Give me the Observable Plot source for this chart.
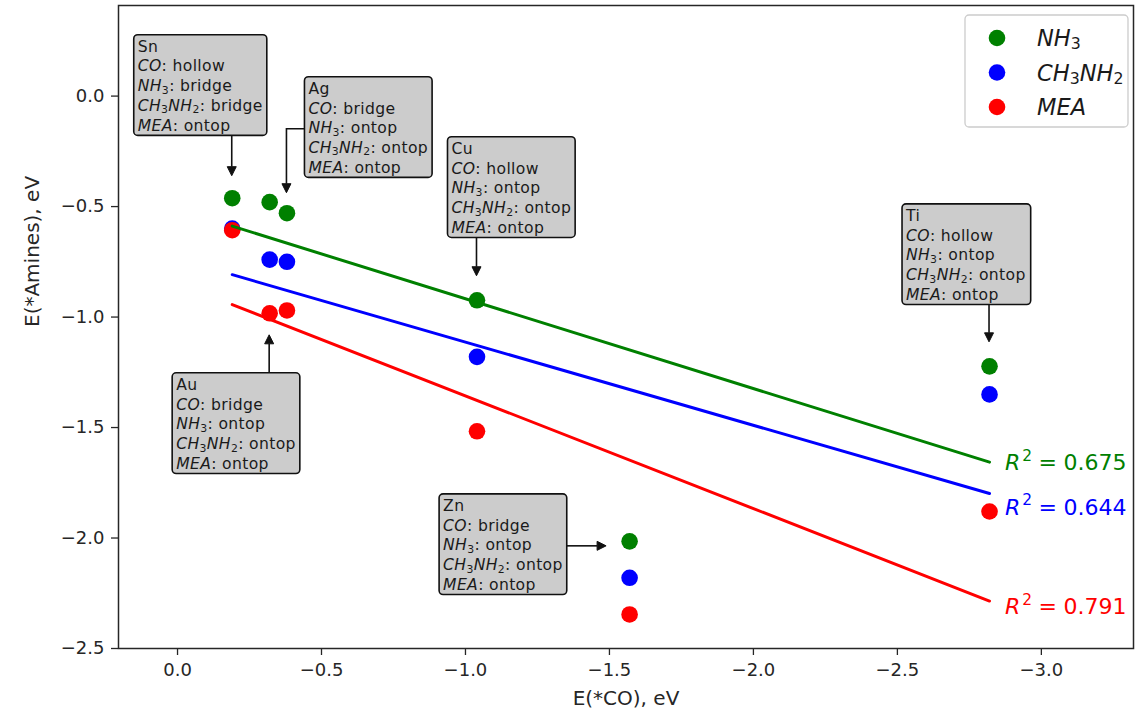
<!DOCTYPE html>
<html><head><meta charset="utf-8">
<script src="https://cdn.jsdelivr.net/npm/d3@7"></script>
<script src="https://cdn.jsdelivr.net/npm/@observablehq/plot@0.6"></script>
<style>
body{margin:0;background:#fff}
svg{font-family:"DejaVu Sans",sans-serif}
</style>
</head><body><div id="chart"></div>
<script>
// ---- data ----
const metals = ["Sn","Au","Ag","Cu","Zn","Ti"];
const eCO = [-0.19,-0.32,-0.38,-1.04,-1.57,-2.82];
const eNH3 = [-0.462,-0.48,-0.53,-0.924,-2.015,-1.223];
const eCH3NH2 = [-0.60,-0.74,-0.75,-1.18,-2.18,-1.35];
const eMEA = [-0.607,-0.983,-0.97,-1.517,-2.346,-1.88];
const seriesNames = ["NH3","CH3NH2","MEA"];
const seriesColors = ["#008000","#0000ff","#ff0000"];
const r2Values = ["0.675","0.644","0.791"];
const r2LabelY = [-1.66,-1.86,-2.31];
const siteCO = ["hollow","bridge","bridge","hollow","bridge","hollow"];
const siteNH3 = ["bridge","ontop","ontop","ontop","ontop","ontop"];
const siteCH3NH2 = ["bridge","ontop","ontop","ontop","ontop","ontop"];
const siteMEA = ["ontop","ontop","ontop","ontop","ontop","ontop"];
const xTicks = [0,-0.5,-1,-1.5,-2,-2.5,-3];
const yTicks = [0,-0.5,-1,-1.5,-2,-2.5];
const xLabel = "E(*CO), eV";
const yLabel = "E(*Amines), eV";

// annotation layout (pixel offsets from the pointed data point)
const annoLayout = {
  Sn: {target:"NH3", dx:-98, dy:-163, arrow:"down", gap:22},
  Ag: {target:"NH3", dx:18, dy:-136, arrow:"elbow", gap:20},
  Cu: {target:"NH3", dx:-29, dy:-163, arrow:"down", gap:24},
  Ti: {target:"NH3", dx:-87, dy:-162, arrow:"down", gap:24},
  Au: {target:"MEA", dx:-97, dy:60, arrow:"up", gap:22},
  Zn: {target:"NH3", dx:-190, dy:-47, arrow:"right", gap:23}
};

const seriesValues = [eNH3, eCH3NH2, eMEA];
const rows = [];
seriesNames.forEach((s, si) => metals.forEach((m, i) => rows.push({metal:m, eCO:eCO[i], series:s, value:seriesValues[si][i]})));

const fmt = d3.format(".1f");
const plot = Plot.plot({
  width:1135, height:719,
  marginLeft:118, marginRight:2, marginTop:5, marginBottom:71,
  style:{fontFamily:"DejaVu Sans, sans-serif", fontSize:"18px", background:"#fff", color:"#262626"},
  x:{domain:[0.205,-3.32]},
  y:{domain:[-2.5,0.41]},
  color:{domain:seriesNames, range:seriesColors},
  marks:[
    Plot.axisX({ticks:xTicks, tickFormat:fmt, tickSize:7, tickPadding:8, fontSize:18, label:null, strokeWidth:1.3}),
    Plot.axisY({ticks:yTicks, tickFormat:fmt, tickSize:7, tickPadding:7, fontSize:18, label:null, strokeWidth:1.3}),
    Plot.dot(rows, {x:"eCO", y:"value", fill:"series", r:8.3}),
    Plot.linearRegressionY(rows, {x:"eCO", y:"value", stroke:"series", strokeWidth:3, ci:0}),
    Plot.frame({stroke:"#262626", strokeWidth:1.5}),
    Plot.text([xLabel], {frameAnchor:"bottom", dy:56, fontSize:20, fill:"#262626"}),
    Plot.text([yLabel], {frameAnchor:"left", dx:-86, rotate:-90, fontSize:20, fill:"#262626"})
  ]
});
document.getElementById("chart").appendChild(plot);

const sx = plot.scale("x"), sy = plot.scale("y");
const svg = d3.select(plot);

function speciesParts(name) {
  const out = [];
  for (const m of name.matchAll(/([A-Za-z]+)|(\d+)/g)) out.push(m[1] ? [m[1], "i"] : [m[2], "sub"]);
  return out;
}
// one <text> element; lines = array of parts arrays
function addRichLines(g, x, y, lines, size, lineH, color) {
  const t = g.append("text").attr("x", x).attr("y", y).attr("font-size", size).attr("fill", color)
    .attr("text-anchor", "start");
  let shift = 0;
  lines.forEach((parts, k) => {
    parts.forEach(([str, kind, gapx], j) => {
      const ts = t.append("tspan").text(str);
      let target = 0;
      if (kind === "sub") { ts.attr("font-size", size * 0.7); target = size * 0.15; }
      else if (kind === "sup") { ts.attr("font-size", size * 0.7); target = -size * 0.42; }
      if (kind === "i") ts.attr("font-style", "italic");
      if (gapx) ts.attr("dx", gapx);
      let dy = 0;
      if (j === 0 && k > 0) { ts.attr("x", x); dy = lineH - shift; shift = 0; }
      if (target !== shift) { dy += target - shift; shift = target; }
      if (dy) ts.attr("dy", dy);
    });
  });
  return t;
}

// ---- annotations ----
const ag = svg.append("g");
const annoSize = 15.6, lineH = 19.8;
Object.entries(annoLayout).forEach(([metal, L]) => {
  const i = metals.indexOf(metal);
  const si = seriesNames.indexOf(L.target);
  const px = sx.apply(eCO[i]), py = sy.apply(seriesValues[si][i]);
  const bx = px + L.dx, by = py + L.dy;
  const g = ag.append("g");
  const rect = g.append("rect");
  const lines = [
    [[metal, ""]],
    [["CO", "i"], [": " + siteCO[i], ""]],
    [...speciesParts("NH3"), [": " + siteNH3[i], ""]],
    [...speciesParts("CH3NH2"), [": " + siteCH3NH2[i], ""]],
    [...speciesParts("MEA"), [": " + siteMEA[i], ""]]
  ];
  const t = addRichLines(g, bx + 4, by + 17, lines, annoSize, lineH, "#1a1a1a").attr("letter-spacing", 0.35);
  const bb = t.node().getBBox();
  const w = bb.width + 8, h = 17 + 4 * lineH + 4.5;
  rect.attr("x", bx).attr("y", by).attr("width", w).attr("height", h)
      .attr("rx", 4).attr("fill", "#cccccc").attr("stroke", "#111").attr("stroke-width", 1.6);
  // arrow
  let pts, dir;
  if (L.arrow === "down") { pts = [[px, by + h], [px, py - L.gap]]; dir = [0, 1]; }
  else if (L.arrow === "up") { pts = [[px, by], [px, py + L.gap]]; dir = [0, -1]; }
  else if (L.arrow === "elbow") { pts = [[bx, by + 52], [px, by + 52], [px, py - L.gap]]; dir = [0, 1]; }
  else { pts = [[bx + w, py + 5], [px - L.gap, py + 5]]; dir = [1, 0]; }
  const tip = pts[pts.length - 1];
  const hl = 9, hw = 4.5;
  const base = [tip[0] - dir[0] * hl, tip[1] - dir[1] * hl];
  const body = pts.slice(0, -1).concat([base]);
  ag.append("path").attr("d", d3.line()(body)).attr("fill", "none").attr("stroke", "#111").attr("stroke-width", 1.6);
  ag.append("path")
    .attr("d", d3.line()([tip, [base[0] + dir[1] * hw, base[1] + dir[0] * hw], [base[0] - dir[1] * hw, base[1] - dir[0] * hw]]) + "Z")
    .attr("fill", "#111").attr("stroke", "#111").attr("stroke-width", 1);
});

// ---- R² labels ----
const rg = svg.append("g");
seriesNames.forEach((s, si) => {
  const x = sx.apply(eCO[metals.indexOf("Ti")]) + 16;
  const y = sy.apply(r2LabelY[si]) + 8;
  addRichLines(rg, x, y, [[["R", "i"], ["2", "sup", 2], ["=", "", 6.5], [r2Values[si], "", 6.5]]], 22, 0, seriesColors[si]);
});

// ---- legend ----
const lg = svg.append("g");
lg.append("rect").attr("x", 965).attr("y", 15).attr("width", 163).attr("height", 112).attr("rx", 4)
  .attr("fill", "#fff").attr("fill-opacity", 0.85).attr("stroke", "#cccccc").attr("stroke-width", 1.3);
seriesNames.forEach((s, si) => {
  const cy = 38 + si * 34.5;
  lg.append("circle").attr("cx", 997).attr("cy", cy).attr("r", 8.3).attr("fill", seriesColors[si]);
  addRichLines(lg, 1037, cy + 8, [speciesParts(s)], 22.5, 0, "#1a1a1a");
});
</script>
</body></html>
